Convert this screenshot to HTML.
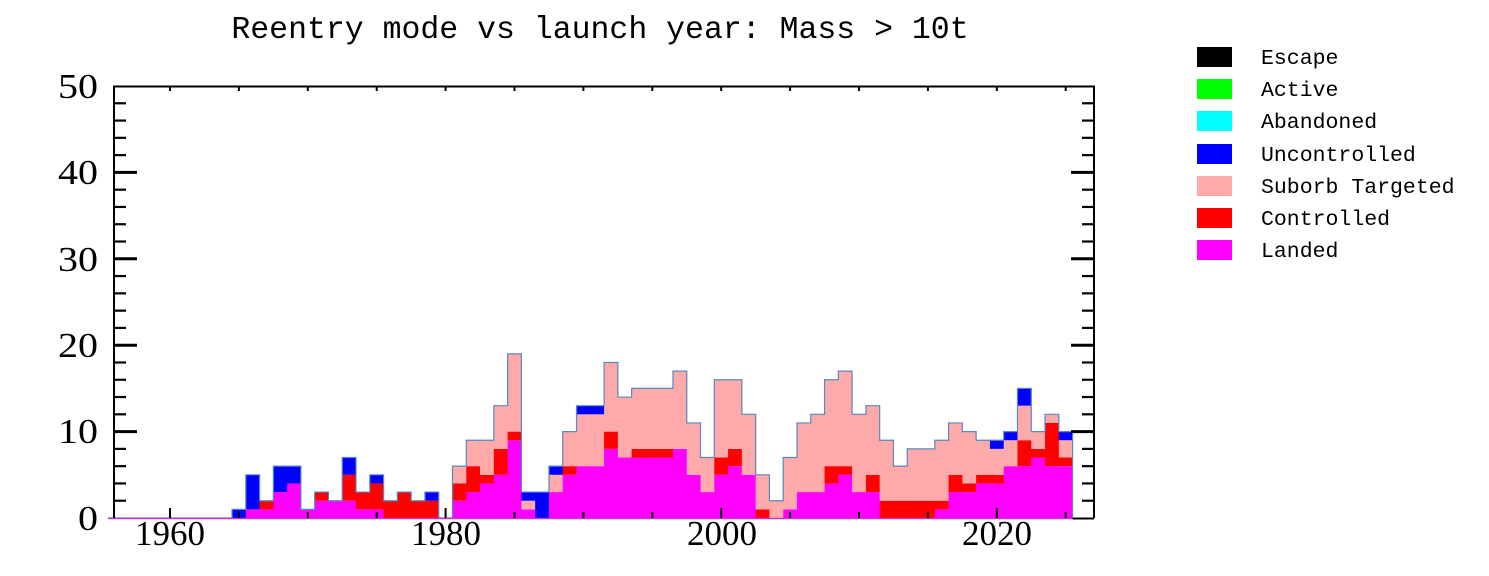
<!DOCTYPE html>
<html><head><meta charset="utf-8"><style>
html,body{margin:0;padding:0;background:#fff;}
svg{display:block;}
</style></head><body>
<svg id="s" width="1489" height="576" xmlns="http://www.w3.org/2000/svg">
<rect width="1489" height="576" fill="#fff"/>
<text x="600" y="38" font-family="Liberation Mono, monospace" font-size="31.5" text-anchor="middle" fill="#000">Reentry mode vs launch year: Mass &gt; 10t</text>
<g id="bars"></g>
<g id="axes" stroke="#000" fill="none"></g>
<g font-family="Liberation Serif, serif" font-size="35" fill="#000" text-anchor="end">
<text x="98" y="98" textLength="40" lengthAdjust="spacingAndGlyphs">50</text>
<text x="98" y="184" textLength="40" lengthAdjust="spacingAndGlyphs">40</text>
<text x="98" y="271" textLength="40" lengthAdjust="spacingAndGlyphs">30</text>
<text x="98" y="357" textLength="40" lengthAdjust="spacingAndGlyphs">20</text>
<text x="98" y="443" textLength="40" lengthAdjust="spacingAndGlyphs">10</text>
<text x="98" y="530" textLength="20" lengthAdjust="spacingAndGlyphs">0</text>
</g>
<g font-family="Liberation Serif, serif" font-size="35" fill="#000" text-anchor="middle">
<text x="170" y="545">1960</text>
<text x="446" y="545">1980</text>
<text x="722" y="545">2000</text>
<text x="997" y="545">2020</text>
</g>
<g font-family="Liberation Mono, monospace" font-size="21.5" fill="#000">
<rect x="1197" y="47" width="35" height="20" fill="#000"/><text x="1261" y="64">Escape</text>
<rect x="1197" y="79" width="35" height="20" fill="#00ff00"/><text x="1261" y="96">Active</text>
<rect x="1197" y="111" width="35" height="20" fill="#00ffff"/><text x="1261" y="128">Abandoned</text>
<rect x="1197" y="144" width="35" height="20" fill="#0000ff"/><text x="1261" y="161">Uncontrolled</text>
<rect x="1197" y="176" width="35" height="20" fill="#ffaaaa"/><text x="1261" y="193">Suborb Targeted</text>
<rect x="1197" y="208" width="35" height="20" fill="#ff0000"/><text x="1261" y="225">Controlled</text>
<rect x="1197" y="240" width="35" height="20" fill="#ff00ff"/><text x="1261" y="257">Landed</text>
</g>
</svg>
<script>
(function(){
var NS="http://www.w3.org/2000/svg";
var d={1965:[0,0,0,1],1966:[1,0,0,4],1967:[1,1,0,0],1968:[3,0,0,3],1969:[4,0,0,2],1970:[1,0,0,0],
1971:[2,1,0,0],1972:[2,0,0,0],1973:[2,3,0,2],1974:[1,2,0,0],1975:[1,3,0,1],1976:[0,2,0,0],1977:[0,3,0,0],
1978:[0,2,0,0],1979:[0,2,0,1],1980:[0,0,0,0],1981:[2,2,2,0],1982:[3,3,3,0],1983:[4,1,4,0],1984:[5,3,5,0],
1985:[9,1,9,0],1986:[1,0,1,1],1987:[0,0,0,3],1988:[3,0,2,1],1989:[5,1,4,0],1990:[6,0,6,1],1991:[6,0,6,1],
1992:[8,2,8,0],1993:[7,0,7,0],1994:[7,1,7,0],1995:[7,1,7,0],1996:[7,1,7,0],1997:[8,0,9,0],1998:[5,0,6,0],
1999:[3,0,4,0],2000:[5,2,9,0],2001:[6,2,8,0],2002:[5,0,7,0],2003:[0,1,4,0],2004:[0,0,2,0],2005:[1,0,6,0],
2006:[3,0,8,0],2007:[3,0,9,0],2008:[4,2,10,0],2009:[5,1,11,0],2010:[3,0,9,0],2011:[3,2,8,0],2012:[0,2,7,0],
2013:[0,2,4,0],2014:[0,2,6,0],2015:[0,2,6,0],2016:[1,1,7,0],2017:[3,2,6,0],2018:[3,1,6,0],2019:[4,1,4,0],
2020:[4,1,3,1],2021:[6,0,3,1],2022:[6,3,4,2],2023:[7,1,2,0],2024:[6,5,1,0],2025:[6,1,2,1]};
var cols=["#ff00ff","#ff0000","#ffaaaa","#0000ff"];
var X0=170, PX=13.78, Y0=518, PY=8.64;
function xf(y){return X0+(y-1960)*PX;}
var g=document.getElementById("bars");
function el(n,a,p){var e=document.createElementNS(NS,n);for(var k in a)e.setAttribute(k,a[k]);(p||g).appendChild(e);return e;}
var path="M108,518 L"+xf(1964.5).toFixed(2)+",518";
for(var y=1965;y<=2025;y++){
  var v=d[y],cum=0,x1=xf(y-0.5),x2=xf(y+0.5);
  for(var i=0;i<4;i++){
    if(v[i]>0){
      el("rect",{x:x1.toFixed(2),y:(Y0-(cum+v[i])*PY).toFixed(2),width:(x2-x1+0.4).toFixed(2),height:(v[i]*PY).toFixed(2),fill:cols[i]});
    }
    cum+=v[i];
  }
  var h=(Y0-cum*PY).toFixed(2);
  path+=" L"+x1.toFixed(2)+","+h+" L"+x2.toFixed(2)+","+h;
}
path+=" L"+xf(2025.5).toFixed(2)+",518";
el("path",{d:path,fill:"none",stroke:"#5b87c0","stroke-width":"1.2"});
el("line",{x1:108,y1:518.5,x2:xf(2025.5),y2:518.5,stroke:"#cc33cc","stroke-width":"1.5"});
var a=document.getElementById("axes");
el("path",{d:"M114,518 L114,86.5 L1094,86.5 L1094,518 M"+xf(2025.5)+",518.5 L1094,518.5","stroke-width":"2"},a);
for(var k=0;k<=25;k++){
  var yy=Y0-k*2*PY, major=(k%5==0);
  var len=major?23:12;
  if(k>0&&k<25){
    el("line",{x1:114,y1:yy,x2:114+len,y2:yy,"stroke-width":major?3:2.2},a);
    el("line",{x1:1094,y1:yy,x2:1094-len,y2:yy,"stroke-width":major?3:2.2},a);
  }
}
for(var yr=1960;yr<=2025;yr+=5){
  var xx=xf(yr);
  el("line",{x1:xx,y1:86,x2:xx,y2:91,"stroke-width":2},a);
  el("line",{x1:xx,y1:518,x2:xx,y2:(yr%20==0?508:512),"stroke-width":2},a);
}
})();
</script>
</body></html>
